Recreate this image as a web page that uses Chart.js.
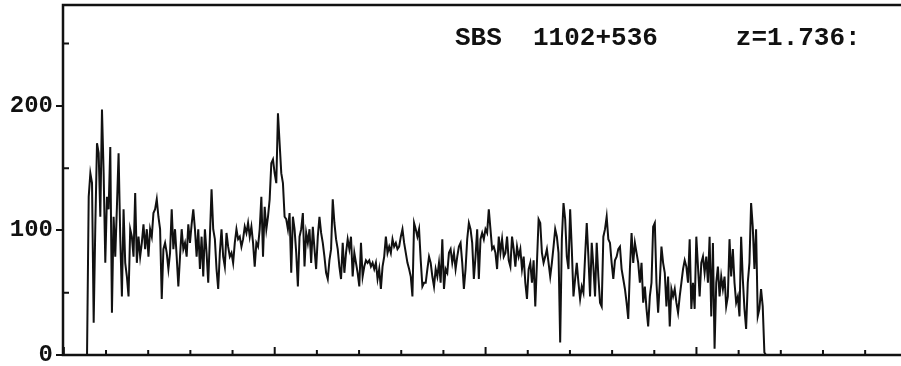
<!DOCTYPE html>
<html>
<head>
<meta charset="utf-8">
<script src="https://cdn.jsdelivr.net/npm/chart.js@4"></script>
<style>
  html, body { margin: 0; padding: 0; background: #fff; }
  canvas { display: block; }
</style>
</head>
<body>
<canvas id="spec" width="901" height="366"></canvas>
<script>
// SBS 1102+536 spectrum, flux in 4 stretches
const fluxA = [0,127,146,138,26,105,170,162,111,197,146,74,127,117,167,34,111,79,119,162,95,47,117,74,63,47,101,95,79,130,74,95,79,90,105,85,101,79,101,95,114,117,125,111,101,45,85,90,82,69,82,117,85,101,79,55,79,101,85,90,79,105,90,105,117,101];
const fluxB = [79,101,69,95,63,101,82,58,95,133,101,93,69,53,82,101,79,71,98,87,79,82,74,90,101,93,95,87,93,103,98,106,95,103,90,71,90,87,101,127,79,119,101,111,125,154,157,146,138,194,170,146,138,111,109,101,114,66,111,101,82,55,95,101,114,71,98,90,101];
const fluxC = [74,103,85,69,95,111,98,90,79,66,61,76,85,125,106,93,85,71,61,90,66,82,93,85,95,63,82,74,66,55,90,63,71,76,74,76,71,74,69,74,61,69,53,71,79,95,82,87,82,93,87,90,85,87,95,101,90,82,74,69,63,47,106,101,95,101,76,55,58];
const fluxD = [58,69,79,74,63,55,69,63,74,58,93,53,69,66,82,85,74,82,69,79,87,90,74,53,69,93,106,101,90,61,79,101,61,93,98,93,101,98,117,101,85,87,82,69,95,82,93,79,82,95,76,71,95,85,71,87,79,85,69,79,58,45,69,74,58,76,39,74,109];
const fluxE = [106,82,74,79,85,74,63,74,87,101,95,82,10,93,122,109,79,69,117,85,47,61,74,58,45,55,50,79,106,79,47,90,71,47,90,63,42,39,95,101,111,93,90,74,61,76,79,85,87,69,61,53,42,29,69,98,74,90,82,74,58,74,42,55,37,23,47,58,103];
const fluxF = [106,58,34,58,87,74,66,39,63,23,53,47,53,42,34,47,58,69,76,71,58,93,37,58,37,95,71,47,74,79,66,79,58,95,31,90,5,58,71,47,63,53,63,39,47,93,63,85,58,42,47,31,95,61,37,21,58,74,122,103,69,101,31,37,53,39,2,0];

const wlStart = 3555;   // first pixel of the spectrum
const wlEnd = 5165;     // last pixel
const yLabels = [0, 100, 200];
const yMinor = [50, 150, 250];
const xTicks = [3500,3600,3700,3800,3900,4000,4100,4200,4300,4400,4500,4600,4700,4800,4900,5000,5100,5200,5300,5400];
const xMajor = [3500, 4000, 4500, 5000];
const titleText = 'SBS  1102+536     z=1.736:';

const flux = [...fluxA, ...fluxB, ...fluxC, ...fluxD, ...fluxE, ...fluxF];
const points = flux.map((f, i) => ({ x: wlStart + i * (wlEnd - wlStart) / (flux.length - 1), y: f }));

const INK = '#111';

// frame, inward ticks and the object label
const framePlugin = {
  id: 'frame',
  afterDraw(chart) {
    const { ctx, chartArea: a, scales } = chart;
    ctx.save();
    ctx.strokeStyle = INK;
    ctx.lineWidth = 2.5;
    ctx.strokeRect(a.left, a.top, a.right - a.left + 20, a.bottom - a.top);

    ctx.lineWidth = 2;
    ctx.beginPath();
    yMinor.forEach(v => {
      const y = scales.y.getPixelForValue(v);
      ctx.moveTo(a.left, y);
      ctx.lineTo(a.left + 6, y);
    });
    xTicks.forEach(v => {
      const x = scales.x.getPixelForValue(v);
      const len = xMajor.includes(v) ? 8 : 5;
      ctx.moveTo(x, a.bottom);
      ctx.lineTo(x, a.bottom - len);
    });
    ctx.stroke();

    ctx.fillStyle = INK;
    ctx.font = 'bold 26px "Liberation Mono"';
    ctx.textBaseline = 'alphabetic';
    ctx.fillText(titleText, 455, 45);
    ctx.restore();
  }
};

new Chart(document.getElementById('spec'), {
  type: 'line',
  data: {
    datasets: [{
      data: points,
      borderColor: INK,
      borderWidth: 2,
      pointRadius: 0,
      tension: 0,
      fill: false
    }]
  },
  options: {
    responsive: false,
    animation: false,
    devicePixelRatio: 1,
    layout: { padding: { top: 5, bottom: 11, left: 0, right: 0 } },
    plugins: { legend: { display: false }, tooltip: { enabled: false } },
    scales: {
      x: { type: 'linear', min: 3498, max: 5485, display: false },
      y: {
        min: 0,
        max: 281,
        ticks: {
          stepSize: 50,
          padding: 3,
          color: INK,
          font: { family: 'Liberation Mono', weight: 'bold', size: 24 },
          callback: v => yLabels.includes(v) ? String(v) : ''
        },
        grid: {
          drawOnChartArea: false,
          drawTicks: true,
          tickLength: 7,
          lineWidth: 2,
          tickColor: c => (c.tick && yLabels.includes(c.tick.value)) ? INK : 'rgba(0,0,0,0)'
        },
        border: { display: false },
        afterFit: s => { s.width = 63; s.paddingTop = 0; s.paddingBottom = 0; }
      }
    }
  },
  plugins: [framePlugin]
});
</script>
</body>
</html>
